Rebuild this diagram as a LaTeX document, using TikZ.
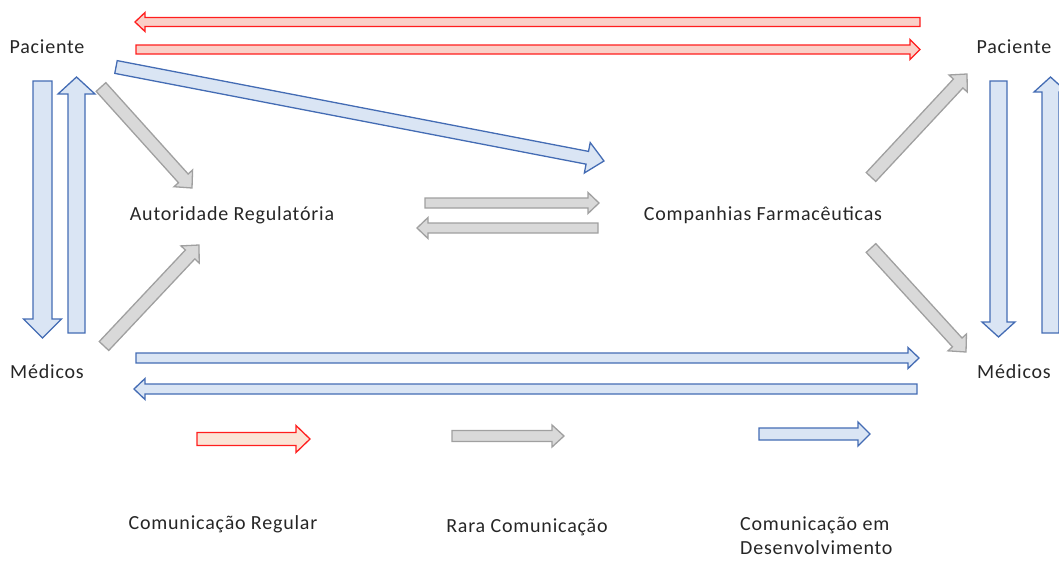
\documentclass[tikz,border=0pt]{standalone}
\usepackage{fontspec}
\setmainfont{Carlito}[LetterSpace=4]
\usetikzlibrary{calc}

\definecolor{redline}{RGB}{255,30,30}
\definecolor{redfill}{RGB}{250,208,200}
\definecolor{peach}{RGB}{251,228,214}
\definecolor{grayline}{RGB}{160,160,160}
\definecolor{grayfill}{RGB}{217,217,217}
\definecolor{blueline}{RGB}{68,108,180}
\definecolor{bluefill}{RGB}{218,229,244}
\definecolor{txt}{RGB}{38,38,38}

% block arrow: #1 style, #2 tail, #3 tip, #4 shaft width, #5 head width, #6 head length
\newcommand\blockarrow[6]{%
  \path[#1] let \p1=(#2), \p2=(#3),
      \n1={atan2(\y2-\y1,\x2-\x1)}, \n2={veclen(\x2-\x1,\y2-\y1)} in
    [shift={(\p1)}, rotate=\n1]
    (0,{-#4/2}) -- ({\n2-#6},{-#4/2}) -- ({\n2-#6},{-#5/2}) -- (\n2,0)
    -- ({\n2-#6},{#5/2}) -- ({\n2-#6},{#4/2}) -- (0,{#4/2}) -- cycle;}

\tikzset{
  lbl/.style={inner sep=0pt, text=txt, font=\fontsize{20}{24}\selectfont},
  regular/.style={draw=redline, fill=redfill, line width=1.3pt, line join=miter},
  regularkey/.style={draw=redline, fill=peach, line width=1.3pt, line join=miter},
  rare/.style={draw=grayline, fill=grayfill, line width=1.3pt, line join=miter},
  growing/.style={draw=blueline, fill=bluefill, line width=1.3pt, line join=miter},
}

\begin{document}
\begin{tikzpicture}[x=1pt, y=-1pt]
\useasboundingbox (0,0) rectangle (1059,560);
\clip (0,0) rectangle (1059,560);

% actors
\node[lbl] (pacL) at (47,47) {Paciente};
\node[lbl] (medL) at (47,372) {Médicos};
\node[lbl] (pacR) at (1014,47) {Paciente};
\node[lbl] (medR) at (1014,372) {Médicos};
\node[lbl] (auth) at (232,215) {Autoridade Regulatória};
\node[lbl] (comp) at (763,215) {Companhias Farmacêuticas};

% legend labels
\node[lbl] (kreg) at (223,524) {Comunicação Regular};
\node[lbl] (krare) at (527,527) {Rara Comunicação};
\node[lbl, align=left, anchor=west] (kdev) at (740,536) {Comunicação em\\Desenvolvimento};

% arrow end points
\coordinate (r1a) at (920,22);   \coordinate (r1b) at (135,22);
\coordinate (r2a) at (136,49.5); \coordinate (r2b) at (920,49.5);
\coordinate (bda) at (116,67);   \coordinate (bdb) at (604,161);
\coordinate (l1a) at (42.5,81);  \coordinate (l1b) at (42.5,338);
\coordinate (l2a) at (76.5,333); \coordinate (l2b) at (76.5,77);
\coordinate (q1a) at (998.5,81); \coordinate (q1b) at (998.5,337);
\coordinate (q2a) at (1050.5,333); \coordinate (q2b) at (1050.5,77);
\coordinate (g1a) at (101,87);   \coordinate (g1b) at (192,188);
\coordinate (g2a) at (104,346);  \coordinate (g2b) at (199,245);
\coordinate (g3a) at (871,177);  \coordinate (g3b) at (967,74);
\coordinate (g4a) at (871,248);  \coordinate (g4b) at (966,352);
\coordinate (m1a) at (425,203);  \coordinate (m1b) at (599,203);
\coordinate (m2a) at (598,228);  \coordinate (m2b) at (417,228);
\coordinate (h1a) at (136,358);  \coordinate (h1b) at (919,358);
\coordinate (h2a) at (917,389);  \coordinate (h2b) at (134,389);
\coordinate (k1a) at (197,439);  \coordinate (k1b) at (310,439);
\coordinate (k2a) at (452,436);  \coordinate (k2b) at (564,436);
\coordinate (k3a) at (759,434);  \coordinate (k3b) at (870,434);

% regular communication
\blockarrow{regular}{r1a}{r1b}{9}{19}{10}
\blockarrow{regular}{r2a}{r2b}{9}{20}{10}

% communication in development
\blockarrow{growing}{bda}{bdb}{13}{31}{17}
\blockarrow{growing}{l1a}{l1b}{19}{38}{19}
\blockarrow{growing}{l2a}{l2b}{17}{37}{17}
\blockarrow{growing}{q1a}{q1b}{17}{33}{15}
\blockarrow{growing}{q2a}{q2b}{17}{33}{15}
\blockarrow{growing}{h1a}{h1b}{10}{21}{11}
\blockarrow{growing}{h2a}{h2b}{10}{21}{11}

% rare communication
\blockarrow{rare}{g1a}{g1b}{13}{25}{13}
\blockarrow{rare}{g2a}{g2b}{13}{25}{13}
\blockarrow{rare}{g3a}{g3b}{13}{25}{13}
\blockarrow{rare}{g4a}{g4b}{13}{25}{13}
\blockarrow{rare}{m1a}{m1b}{10}{21}{11}
\blockarrow{rare}{m2a}{m2b}{10}{21}{11}

% legend arrows
\blockarrow{regularkey}{k1a}{k1b}{13}{27}{14}
\blockarrow{rare}{k2a}{k2b}{11}{22}{12}
\blockarrow{growing}{k3a}{k3b}{12}{24}{12}
\end{tikzpicture}
\end{document}
